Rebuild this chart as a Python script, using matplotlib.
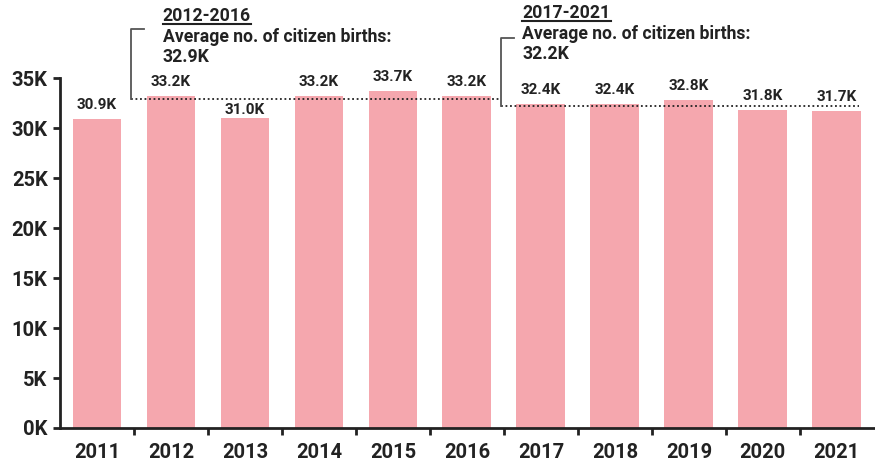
import matplotlib
matplotlib.use("Agg")
import matplotlib.pyplot as plt
from matplotlib.lines import Line2D

years = ["2011", "2012", "2013", "2014", "2015", "2016",
         "2017", "2018", "2019", "2020", "2021"]
births = [30.9, 33.2, 31.0, 33.2, 33.7, 33.2, 32.4, 32.4, 32.8, 31.8, 31.7]
avg_periods = ["2012-2016", "2017-2021"]
avg_values = [32.9, 32.2]

plt.rcParams['font.family'] = ['Roboto', 'DejaVu Sans']
dark = '#222222'
pink = '#F5A7AE'

fig = plt.figure(figsize=(8.75, 4.62), dpi=100)
ax = fig.add_axes([0.0686, 0.0736, 0.93, 0.757])

x = list(range(len(years)))
ax.bar(x, births, width=0.66, color=pink, zorder=2)
ax.set_xlim(-0.5, len(years) - 0.5)
ax.set_ylim(0, 35)

# value labels (2013 sits lower so it clears the dotted line)
offsets = [5, 5, 1, 5, 5, 5, 5, 5, 5, 5, 5]
for xi, v, off in zip(x, births, offsets):
    ax.annotate(f"{v:.1f}K", (xi, v), xytext=(0, off), textcoords='offset points',
                ha='center', va='bottom', fontsize=11, fontweight='bold',
                color=dark, annotation_clip=False)

# ticks
ax.set_yticks(range(0, 36, 5))
ax.set_yticklabels([f"{t}K" for t in range(0, 36, 5)])
ax.set_xticks(x)
ax.set_xticklabels(years)
ax.set_xticks([i + 0.5 for i in x[:-1]], minor=True)
ax.tick_params(axis='x', which='major', length=0, pad=11)
ax.tick_params(axis='x', which='minor', length=5, width=2, color=dark)
ax.tick_params(axis='y', length=5, width=2, color=dark, pad=4)
for lab in ax.get_xticklabels() + ax.get_yticklabels():
    lab.set_fontsize(14.5)
    lab.set_fontweight('bold')
    lab.set_color(dark)
for s in ['top', 'right']:
    ax.spines[s].set_visible(False)
for s in ['left', 'bottom']:
    ax.spines[s].set_linewidth(2)
    ax.spines[s].set_color(dark)

# average lines with brackets and notes
spans = [(0.455, 5.46), (5.46, 10.3)]
bracket_top = [39.9, 39.0]   # in data units
text_x = [0.89, 5.75]
text_y = [41.2, 41.5]
underline_items = []
for (x0, x1), top, tx, ty, per, av in zip(spans, bracket_top, text_x, text_y,
                                          avg_periods, avg_values):
    ax.plot([x0, x1], [av, av], ls=(0, (1, 1.5)), color=dark, lw=1.3,
            clip_on=False, zorder=3)
    ax.plot([x0, x0, x0 + 0.18], [av, top, top], color='#555555', lw=1.3,
            clip_on=False, zorder=3)
    t = ax.text(tx, ty, per, fontsize=12.7, fontweight='bold', color=dark,
                ha='left', va='center', clip_on=False)
    underline_items.append(t)
    ax.text(tx, ty - 2.05, "Average no. of citizen births:", fontsize=12.7,
            fontweight='bold', color=dark, ha='left', va='center', clip_on=False)
    ax.text(tx, ty - 4.1, f"{av}K", fontsize=12.7, fontweight='bold',
            color=dark, ha='left', va='center', clip_on=False)

# underline the period headings
fig.canvas.draw()
r = fig.canvas.get_renderer()
inv = fig.transFigure.inverted()
for t in underline_items:
    bb = t.get_window_extent(renderer=r)
    (fx0, fy0), (fx1, fy1) = inv.transform([(bb.x0, bb.y0), (bb.x1, bb.y0)])
    fig.add_artist(Line2D([fx0, fx1], [fy0 + 0.002, fy0 + 0.002], color=dark, lw=1.5))

fig.savefig("out.png", dpi=100)
